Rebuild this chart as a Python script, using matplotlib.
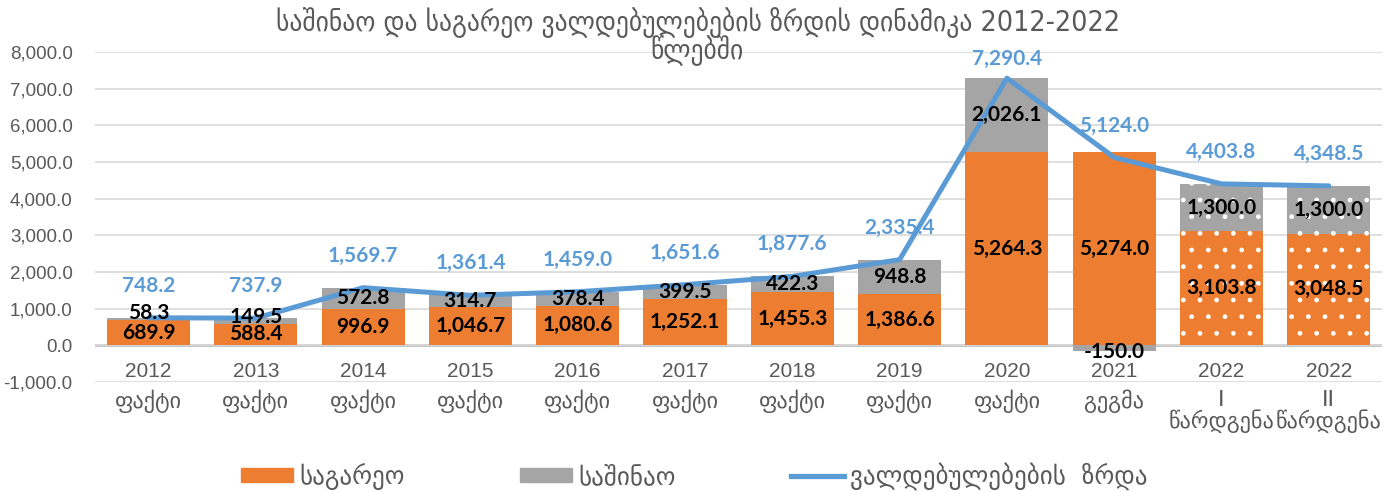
import matplotlib
matplotlib.use("Agg")
import matplotlib.pyplot as plt
from matplotlib.patches import Patch
from matplotlib.lines import Line2D
import numpy as np

years = ["2012", "2013", "2014", "2015", "2016", "2017", "2018", "2019", "2020", "2021", "2022", "2022"]
kinds = ["ფაქტი", "ფაქტი", "ფაქტი", "ფაქტი", "ფაქტი", "ფაქტი", "ფაქტი", "ფაქტი", "ფაქტი", "გეგმა",
         "I\nწარდგენა", "II\nწარდგენა"]
external = [689.9, 588.4, 996.9, 1046.7, 1080.6, 1252.1, 1455.3, 1386.6, 5264.3, 5274.0, 3103.8, 3048.5]
domestic = [58.3, 149.5, 572.8, 314.7, 378.4, 399.5, 422.3, 948.8, 2026.1, -150.0, 1300.0, 1300.0]
total = [748.2, 737.9, 1569.7, 1361.4, 1459.0, 1651.6, 1877.6, 2335.4, 7290.4, 5124.0, 4403.8, 4348.5]
hatched = [False] * 10 + [True, True]

title_line1 = "საშინაო და საგარეო ვალდებულებების ზრდის დინამიკა 2012-2022"
title_line2 = "წლებში"
legend_labels = ["საგარეო", "საშინაო", "ვალდებულებების  ზრდა"]

ORANGE = "#ED7D31"
GREY = "#A5A5A5"
BLUE = "#5B9BD5"
TXT = "#595959"

fig = plt.figure(figsize=(13.95, 4.92), dpi=100)
ax = fig.add_axes([0.068, 0.224, 0.923, 0.670])

x = np.arange(len(years))
w = 0.775
ext = np.array(external)
dom = np.array(domestic)
dom_bottom = np.where(dom >= 0, ext, 0)

for i in range(len(x)):
    h = "." if hatched[i] else None
    ax.bar(x[i], ext[i], w, color=ORANGE, hatch=h, edgecolor="white" if h else ORANGE,
           linewidth=0, zorder=2)
    ax.bar(x[i], dom[i], w, bottom=dom_bottom[i], color=GREY, hatch=h,
           edgecolor="white" if h else GREY, linewidth=0, zorder=2)

ax.plot(x, total, color=BLUE, lw=3.6, zorder=3, solid_capstyle="round", solid_joinstyle="round")

numfont = ["Lato", "DejaVu Sans"]
LBL = 15
for i in range(len(x)):
    ax.text(x[i], ext[i] / 2, f"{ext[i]:,.1f}", ha="center", va="center", fontsize=LBL,
            fontweight="bold", family=numfont, zorder=4)
    if dom[i] >= 0:
        yy = ext[i] + dom[i] / 2
        if dom[i] < 250:
            yy = ext[i] + 185
    else:
        yy = dom[i] - 40
    ax.text(x[i], yy, f"{dom[i]:,.1f}", ha="center", va="center", fontsize=LBL,
            fontweight="bold", family=numfont, zorder=4)
    off = 14 if total[i] > 7000 else 23
    ax.annotate(f"{total[i]:,.1f}", (x[i], total[i]), xytext=(0, off), textcoords="offset points",
                ha="center", va="center", fontsize=LBL, fontweight="bold", color=BLUE,
                family=numfont, zorder=4)

ax.set_xlim(-0.5, len(x) - 0.5)
ax.set_ylim(-1000, 8000)
yt = np.arange(-1000, 8001, 1000)
ax.set_yticks(yt)
ax.set_yticklabels([f"{v:,.1f}" for v in yt], family="Liberation Sans", fontsize=13.5, color=TXT)
ax.tick_params(axis="y", length=0, pad=16)
ax.set_xticks([])
ax.grid(axis="y", color="#D9D9D9", lw=1.2, zorder=0)
ax.axhline(0, color="#BFBFBF", lw=2, zorder=1)
for s in ax.spines.values():
    s.set_visible(False)

# category labels (years and kind) placed like Excel's low labels
tr = ax.get_xaxis_transform()
for i in range(len(x)):
    ax.text(x[i], 0.030, years[i], transform=tr, ha="center", va="center", fontsize=15,
            color=TXT, family="Liberation Sans")
    ax.text(x[i], -0.024, kinds[i], transform=tr, ha="center", va="top", fontsize=16,
            color=TXT, family=["DejaVu Sans"], linespacing=1.0)

fig.text(0.5, 0.955, title_line1, ha="center", va="center", fontsize=20.5, color=TXT,
         family="DejaVu Sans", fontstretch="condensed")
fig.text(0.5, 0.898, title_line2, ha="center", va="center", fontsize=20.5, color=TXT,
         family="DejaVu Sans", fontstretch="condensed")

handles = [Patch(color=ORANGE), Patch(color=GREY), Line2D([0], [0], color=BLUE, lw=3.8)]
leg = fig.legend(handles, legend_labels, loc="center", bbox_to_anchor=(0.4975, 0.032), ncol=3,
                 frameon=False, prop={"family": "DejaVu Sans", "size": 18},
                 columnspacing=4.6, handlelength=2.1, handleheight=0.5, handletextpad=0.25)
for t in leg.get_texts():
    t.set_color(TXT)

fig.savefig("out.png", dpi=100)
